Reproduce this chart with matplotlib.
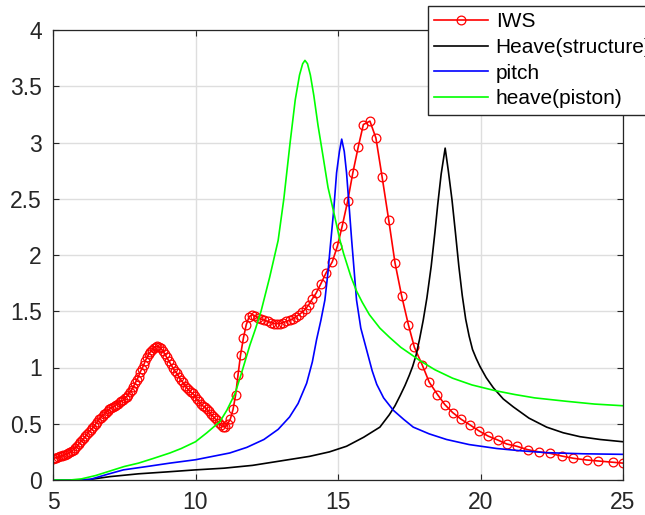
import numpy as np
import matplotlib.pyplot as plt

plt.rcParams['font.family'] = ['Liberation Sans', 'DejaVu Sans']

# IWS (red, circles)
iws_x = [5.00, 5.06, 5.12, 5.18, 5.24, 5.30, 5.36, 5.42, 5.48, 5.54,
         5.60, 5.66, 5.72, 5.78, 5.84, 5.90, 5.96, 6.02, 6.08, 6.14,
         6.20, 6.26, 6.32, 6.38, 6.44, 6.50, 6.56, 6.62, 6.68, 6.74,
         6.80, 6.86, 6.92, 6.98, 7.04, 7.10, 7.16, 7.22, 7.28, 7.34,
         7.40, 7.46, 7.52, 7.58, 7.64, 7.70, 7.76, 7.82, 7.88, 7.94,
         8.00, 8.06, 8.12, 8.18, 8.24, 8.30, 8.36, 8.42, 8.48, 8.54,
         8.60, 8.66, 8.72, 8.78, 8.85, 8.92, 8.99, 9.06, 9.13, 9.20,
         9.27, 9.34, 9.41, 9.48, 9.55, 9.62, 9.69, 9.76, 9.83, 9.90,
         9.97, 10.04, 10.11, 10.18, 10.25, 10.32, 10.39, 10.46, 10.53, 10.60,
         10.67, 10.74, 10.81, 10.88, 10.96, 11.04, 11.13, 11.22, 11.32, 11.41,
         11.49, 11.58, 11.68, 11.78, 11.88, 11.98, 12.09, 12.20, 12.31, 12.42,
         12.53, 12.64, 12.75, 12.86, 12.97, 13.08, 13.19, 13.30, 13.41, 13.52,
         13.63, 13.74, 13.86, 13.98, 14.10, 14.23, 14.39, 14.58, 14.80, 14.98,
         15.15, 15.34, 15.52, 15.71, 15.89, 16.12, 16.33, 16.55, 16.78, 17.00,
         17.23, 17.47, 17.68, 17.96, 18.20, 18.49, 18.75, 19.02, 19.32, 19.63,
         19.95, 20.27, 20.60, 20.92, 21.27, 21.65, 22.05, 22.44, 22.85, 23.26,
         23.72, 24.14, 24.66, 25.00]
iws_y = [0.190, 0.195, 0.200, 0.205, 0.210, 0.215, 0.220, 0.225, 0.230, 0.240,
         0.250, 0.260, 0.270, 0.285, 0.300, 0.320, 0.340, 0.355, 0.370, 0.390,
         0.410, 0.430, 0.445, 0.460, 0.480, 0.500, 0.520, 0.540, 0.555, 0.570,
         0.590, 0.600, 0.615, 0.630, 0.640, 0.650, 0.660, 0.670, 0.680, 0.690,
         0.700, 0.710, 0.725, 0.740, 0.760, 0.780, 0.800, 0.830, 0.860, 0.890,
         0.920, 0.960, 0.990, 1.020, 1.060, 1.090, 1.120, 1.140, 1.160, 1.175,
         1.185, 1.190, 1.185, 1.170, 1.150, 1.120, 1.090, 1.060, 1.030, 1.000,
         0.970, 0.950, 0.920, 0.890, 0.870, 0.840, 0.820, 0.800, 0.780, 0.770,
         0.750, 0.720, 0.700, 0.680, 0.660, 0.650, 0.630, 0.610, 0.590, 0.570,
         0.550, 0.530, 0.510, 0.490, 0.475, 0.470, 0.500, 0.540, 0.630, 0.760,
         0.930, 1.110, 1.260, 1.380, 1.450, 1.470, 1.460, 1.440, 1.430, 1.420,
         1.410, 1.400, 1.390, 1.390, 1.390, 1.400, 1.410, 1.420, 1.430, 1.450,
         1.470, 1.490, 1.520, 1.560, 1.610, 1.660, 1.740, 1.840, 1.940, 2.080,
         2.260, 2.480, 2.730, 2.960, 3.160, 3.190, 3.040, 2.690, 2.310, 1.930,
         1.640, 1.380, 1.180, 1.020, 0.870, 0.760, 0.670, 0.600, 0.540, 0.490,
         0.436, 0.390, 0.356, 0.320, 0.300, 0.270, 0.250, 0.237, 0.213, 0.193,
         0.178, 0.169, 0.157, 0.150]

# Heave(structure) (black)
heave_s_x = [5.0, 6.0, 6.3, 7.0, 8.0, 9.0, 10.0, 11.0, 12.0, 13.0,
             14.0, 14.7, 15.3, 15.9, 16.47, 16.8, 17.0, 17.18, 17.35, 17.5,
             17.62, 17.74, 17.86, 17.99, 18.12, 18.27, 18.4, 18.5, 18.62, 18.76,
             18.87, 19.0, 19.12, 19.24, 19.36, 19.48, 19.6, 19.72, 19.85, 19.98,
             20.2, 20.45, 20.8, 21.15, 21.7, 22.32, 22.9, 23.49, 24.2, 25.0]
heave_s_y = [0.0, 0.0, 0.005, 0.03, 0.055, 0.072, 0.09, 0.105, 0.13, 0.17,
             0.21, 0.25, 0.30, 0.38, 0.47, 0.58, 0.66, 0.75, 0.84, 0.93,
             1.01, 1.11, 1.25, 1.42, 1.62, 1.90, 2.20, 2.45, 2.72, 2.95,
             2.75, 2.49, 2.20, 1.90, 1.64, 1.43, 1.28, 1.16, 1.08, 1.01,
             0.91, 0.82, 0.72, 0.65, 0.55, 0.47, 0.42, 0.385, 0.36, 0.34]

# pitch (blue)
pitch_x = [5.0, 5.8, 6.3, 6.9, 7.47, 8.3, 9.1, 10.0, 10.6, 11.2,
           11.8, 12.4, 12.9, 13.3, 13.6, 13.9, 14.1, 14.25, 14.4, 14.54,
           14.65, 14.72, 14.85, 14.95, 15.05, 15.13, 15.22, 15.3, 15.4, 15.48,
           15.57, 15.65, 15.8, 16.0, 16.2, 16.36, 16.6, 16.94, 17.3, 17.64,
           18.2, 18.81, 19.6, 20.57, 21.4, 22.32, 23.6, 25.0]
pitch_y = [0.0, 0.0, 0.005, 0.05, 0.09, 0.12, 0.15, 0.18, 0.21, 0.24,
           0.29, 0.36, 0.45, 0.56, 0.68, 0.86, 1.05, 1.25, 1.42, 1.60,
           1.85, 2.05, 2.40, 2.73, 2.92, 3.03, 2.92, 2.73, 2.40, 2.13,
           1.85, 1.60, 1.35, 1.16, 0.97, 0.85, 0.73, 0.62, 0.54, 0.47,
           0.41, 0.36, 0.315, 0.28, 0.26, 0.243, 0.233, 0.228]

# heave(piston) (green)
heave_p_x = [5.0, 5.6, 6.0, 6.5, 7.0, 7.5, 8.0, 8.5, 9.1, 9.5,
             10.0, 10.4, 10.86, 11.1, 11.39, 11.65, 11.91, 12.1, 12.3, 12.6,
             12.9, 13.1, 13.32, 13.5, 13.65, 13.76, 13.84, 13.93, 14.03, 14.15,
             14.3, 14.48, 14.65, 14.86, 15.07, 15.2, 15.3, 15.45, 15.65, 15.85,
             16.1, 16.47, 16.8, 17.2, 17.6, 17.88, 18.4, 19.02, 19.7, 20.5,
             21.2, 21.9, 23.0, 24.0, 25.0]
heave_p_y = [0.0, 0.0, 0.01, 0.04, 0.08, 0.12, 0.15, 0.19, 0.24, 0.28,
             0.34, 0.42, 0.52, 0.62, 0.77, 0.98, 1.20, 1.34, 1.50, 1.80,
             2.13, 2.50, 3.00, 3.38, 3.60, 3.70, 3.73, 3.70, 3.60, 3.42,
             3.15, 2.87, 2.60, 2.37, 2.13, 2.01, 1.93, 1.81, 1.68, 1.58,
             1.47, 1.35, 1.27, 1.18, 1.11, 1.06, 0.98, 0.905, 0.845, 0.795,
             0.76, 0.73, 0.70, 0.675, 0.66]

x_ticks = [5, 10, 15, 20, 25]
y_ticks = [0, 0.5, 1, 1.5, 2, 2.5, 3, 3.5, 4]
y_tick_labels = ['0', '0.5', '1', '1.5', '2', '2.5', '3', '3.5', '4']

fig = plt.figure(figsize=(6.45, 5.15), dpi=100)
ax = fig.add_axes([53 / 645, 1 - 480 / 515, 570 / 645, 450 / 515])

ax.plot(iws_x, iws_y, color='red', lw=1.2, marker='o', ms=6.3,
        mfc='none', mec='red', mew=0.9, label='IWS')
ax.plot(heave_s_x, heave_s_y, color='black', lw=1.2, label='Heave(structure)')
ax.plot(pitch_x, pitch_y, color='blue', lw=1.2, label='pitch')
ax.plot(heave_p_x, heave_p_y, color=(0, 1, 0), lw=1.2, label='heave(piston)')

ax.set_xlim(5, 25)
ax.set_ylim(0, 4)
ax.set_xticks(x_ticks)
ax.set_yticks(y_ticks)
ax.set_yticklabels(y_tick_labels)
ax.grid(True, color='#dedede', lw=1.0)
ax.set_axisbelow(True)
ax.tick_params(direction='in', length=4, width=0.8, top=True, right=True,
               labelsize=16.5, colors='#262626', pad=8)
for s in ax.spines.values():
    s.set_color('#262626')
    s.set_linewidth(0.9)

# legend sticks out past the right edge, as in the original
leg = fig.legend(loc='upper left', bbox_to_anchor=(428 / 645, 1 - 6 / 515),
                 borderaxespad=0, fontsize=15, handlelength=2.6,
                 handletextpad=0.35, labelspacing=0.32, borderpad=0.3,
                 fancybox=False, framealpha=1, edgecolor='#262626')
leg.get_frame().set_linewidth(1.0)

fig.savefig('out.png', dpi=100)
